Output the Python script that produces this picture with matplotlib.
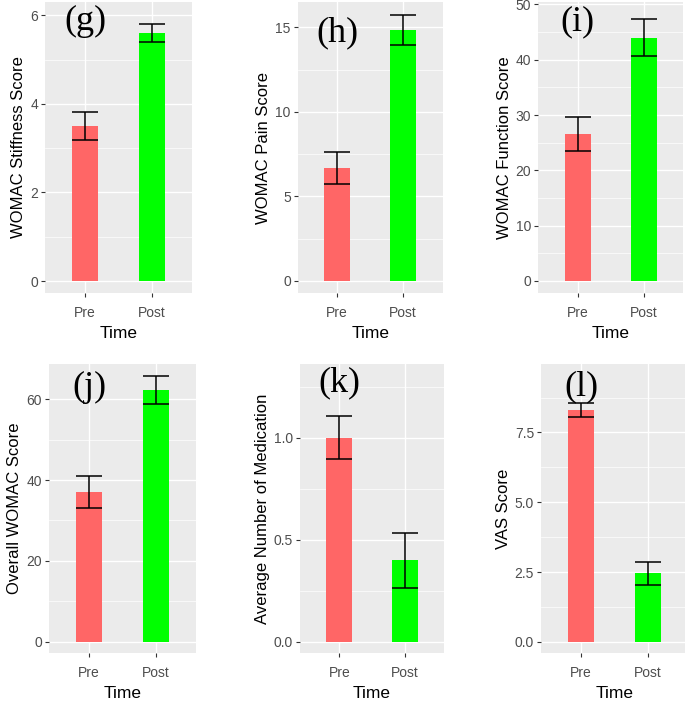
import matplotlib
matplotlib.use("Agg")
import matplotlib.pyplot as plt
from matplotlib.ticker import MultipleLocator, FormatStrFormatter

plt.rcParams['font.family'] = ['Liberation Sans', 'DejaVu Sans']

times = ['Pre', 'Post']
bar_colors = ['#FF6666', '#00FF00']

# means and standard errors
stiffness = [3.5, 5.6]
stiffness_err = [0.31, 0.2]
pain = [6.67, 14.85]
pain_err = [0.95, 0.9]
function = [26.6, 44.0]
function_err = [3.05, 3.35]
overall = [37.0, 62.2]
overall_err = [3.9, 3.45]
medication = [1.0, 0.40]
medication_err = [0.105, 0.135]
vas = [8.3, 2.45]
vas_err = [0.26, 0.41]

panels = [
    # (values, errors, ylabel, tag, tag_y, ylim, major, minor, fmt, axes rect)
    (stiffness, stiffness_err, 'WOMAC Stiffness Score', '(g)', 5.85, (-0.27, 6.30), 2, 1, '%d',
     [45 / 685, 408 / 701, 147 / 685, 291 / 701]),
    (pain, pain_err, 'WOMAC Pain Score', '(h)', 14.7, (-0.71, 16.5), 5, 2.5, '%d',
     [297.7 / 685, 408 / 701, 145 / 685, 291 / 701]),
    (function, function_err, 'WOMAC Function Score', '(i)', 46.8, (-2.17, 50.45), 10, 5, '%d',
     [538.3 / 685, 408 / 701, 145 / 685, 291 / 701]),
    (overall, overall_err, 'Overall WOMAC Score', '(j)', 62.8, (-2.87, 68.7), 20, 10, '%d',
     [49 / 685, 47.7 / 701, 147 / 685, 289.3 / 701]),
    (medication, medication_err, 'Average Number of Medication', '(k)', 1.27, (-0.057, 1.361), 0.5, 0.25, '%.1f',
     [300 / 685, 47.7 / 701, 144 / 685, 289.3 / 701]),
    (vas, vas_err, 'VAS Score', '(l)', 9.14, (-0.41, 9.95), 2.5, 1.25, '%.1f',
     [541 / 685, 47.7 / 701, 147 / 685, 289.3 / 701]),
]

fig = plt.figure(figsize=(6.85, 7.01), dpi=100)

for vals, errs, ylabel, tag, tag_y, ylim, major, minor, fmt, rect in panels:
    ax = fig.add_axes(rect)
    ax.set_facecolor('#EBEBEB')
    x = [1, 2]
    ax.bar(x, vals, width=0.4, color=bar_colors, zorder=2)
    ax.errorbar(x, vals, yerr=errs, fmt='none', ecolor='black', elinewidth=1.1,
                capsize=9.6, capthick=1.1, zorder=3)
    ax.set_xlim(0.4, 2.6)
    ax.set_ylim(*ylim)
    ax.set_xticks(x)
    ax.set_xticklabels(times)
    ax.yaxis.set_major_locator(MultipleLocator(major))
    ax.yaxis.set_minor_locator(MultipleLocator(minor))
    ax.yaxis.set_major_formatter(FormatStrFormatter(fmt))
    ax.grid(which='major', color='white', linewidth=1.0)
    ax.grid(which='minor', axis='y', color='white', linewidth=0.5)
    ax.set_axisbelow(True)
    for s in ax.spines.values():
        s.set_visible(False)
    ax.tick_params(which='major', length=3, width=0.8, color='#333333',
                   labelcolor='#4D4D4D', labelsize=10, pad=2)
    ax.tick_params(axis='x', which='major', pad=6.5)
    ax.tick_params(which='minor', length=0)
    ax.set_xlabel('Time', fontsize=12.5, labelpad=4)
    ax.set_ylabel(ylabel, fontsize=12, labelpad=3)
    ax.text(1, tag_y, tag, family=['Liberation Serif', 'DejaVu Serif'], fontsize=26,
            ha='center', va='center', zorder=4)

fig.savefig('out.png', dpi=100)
